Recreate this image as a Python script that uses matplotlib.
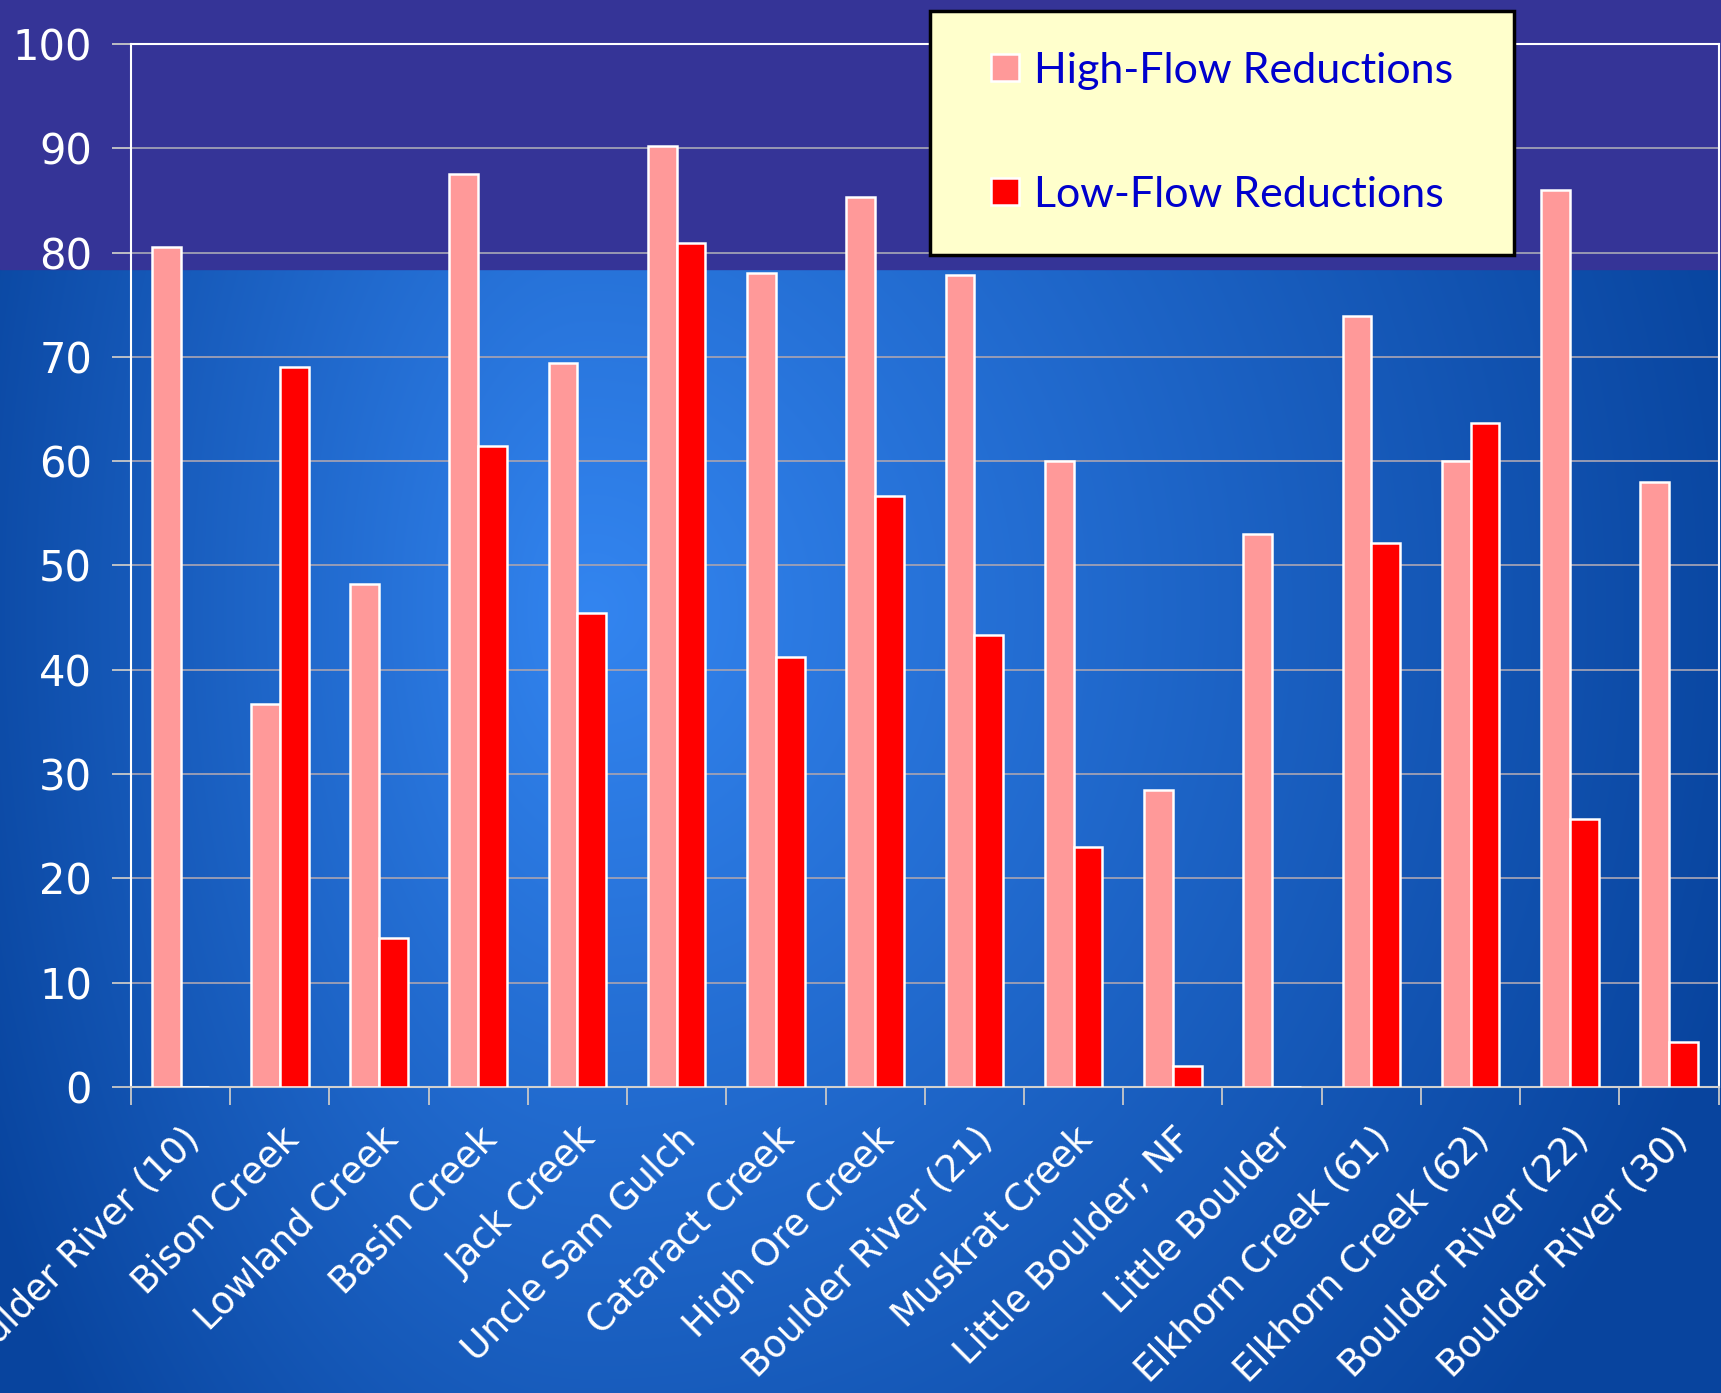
import numpy as np
import matplotlib
matplotlib.use("Agg")
import matplotlib.pyplot as plt
from matplotlib.patches import Rectangle
from matplotlib.legend_handler import HandlerPatch

# data
sites = ["Boulder River (10)", "Bison Creek", "Lowland Creek", "Basin Creek",
         "Jack Creek", "Uncle Sam Gulch", "Cataract Creek", "High Ore Creek",
         "Boulder River (21)", "Muskrat Creek", "Little Boulder, NF", "Little Boulder",
         "Elkhorn Creek (61)", "Elkhorn Creek (62)", "Boulder River (22)", "Boulder River (30)"]
high_flow = [80.5, 36.7, 48.2, 87.5, 69.4, 90.2, 78.0, 85.3,
             77.9, 60.0, 28.5, 53.0, 73.9, 60.0, 86.0, 58.0]
low_flow = [0, 69.0, 14.3, 61.5, 45.4, 80.9, 41.2, 56.7,
            43.3, 23.0, 2.0, 0, 52.2, 63.7, 25.7, 4.3]
yticks = list(range(0, 101, 10))

W, H = 1721, 1393
fig = plt.figure(figsize=(W / 100, H / 100), dpi=100)

# background: radial blue gradient + purple band on top
bg = fig.add_axes([0, 0, 1, 1], zorder=0)
bg.set_axis_off()
yy, xx = np.mgrid[0:H, 0:W]
cx, cy = 590, 610
rx = np.where(xx < cx, 680.0, 1200.0)
d = np.sqrt(((xx - cx) / rx) ** 2 + ((yy - cy) / 1250.0) ** 2)
t = np.clip(d, 0, 1)[..., None]
c0 = np.array([51, 133, 240]) / 255.0
c1 = np.array([8, 68, 158]) / 255.0
img = c0 * (1 - t) + c1 * t
bg.imshow(img, extent=[0, 1, 0, 1], aspect="auto", origin="upper")
bg.add_patch(Rectangle((0, 0.807), 1, 0.2, color="#353497", zorder=2))
bg.set_xlim(0, 1)
bg.set_ylim(0, 1)

ax = fig.add_axes([0.0761, 0.2197, 0.9225, 0.7487], zorder=1)
ax.set_facecolor("none")

x = np.arange(len(sites))
w = 0.29
b1 = ax.bar(x - w / 2, high_flow, w, color="#FF9999", edgecolor="white",
            linewidth=1.8, label="High-Flow Reductions", zorder=3)
b2 = ax.bar(x + w / 2, low_flow, w, color="#FF0000", edgecolor="white",
            linewidth=1.8, label="Low-Flow Reductions", zorder=3)

ax.set_xlim(-0.5, len(sites) - 0.5)
ax.set_ylim(0, 100)
ax.set_yticks(yticks)
ax.yaxis.grid(True, color="#A0A0B4", linewidth=1.3, zorder=0)
ax.set_axisbelow(True)

for s in ax.spines.values():
    s.set_color("white")
    s.set_linewidth(1.5)
ax.spines["bottom"].set_color("#D0D0D0")

ax.set_xticks(np.arange(len(sites) + 1) - 0.5, minor=False)
ax.set_xticklabels([])
ax.tick_params(axis="x", which="major", length=13, width=1.3, color="#C8C8C8", direction="out")
ax.set_xticks(x, minor=True)
ax.set_xticklabels(sites, minor=True, rotation=45, ha="right", va="top",
                   rotation_mode="anchor", color="white", fontsize=26.5)
ax.tick_params(axis="x", which="minor", length=0, pad=24)
ax.tick_params(axis="y", length=14, width=1.3, color="#C8C8C8", labelcolor="white",
               labelsize=30, pad=14)


# small square legend marker pushed to the right of the handle box
def square(legend, orig_handle, xdescent, ydescent, width, height, fontsize):
    s = height
    return Rectangle((width - s - xdescent, -ydescent), s, s)


leg = ax.legend(handles=[b1.patches[0], b2.patches[0]],
                labels=["High-Flow Reductions", "Low-Flow Reductions"],
                loc="upper left", bbox_to_anchor=(0.503, 1.032, 0.368, 0),
                mode="expand", frameon=True, fancybox=False,
                facecolor="#FFFFCC", edgecolor="black", framealpha=1,
                handlelength=1.12, handleheight=0.6, handletextpad=0.35,
                labelspacing=2.0, borderpad=0.95, borderaxespad=0,
                prop={"family": "Lato", "size": 31},
                handler_map={Rectangle: HandlerPatch(patch_func=square)})
leg.get_frame().set_linewidth(2.5)
for txt in leg.get_texts():
    txt.set_color("#0000CC")
leg.set_zorder(10)

fig.savefig("out.png", dpi=100)
